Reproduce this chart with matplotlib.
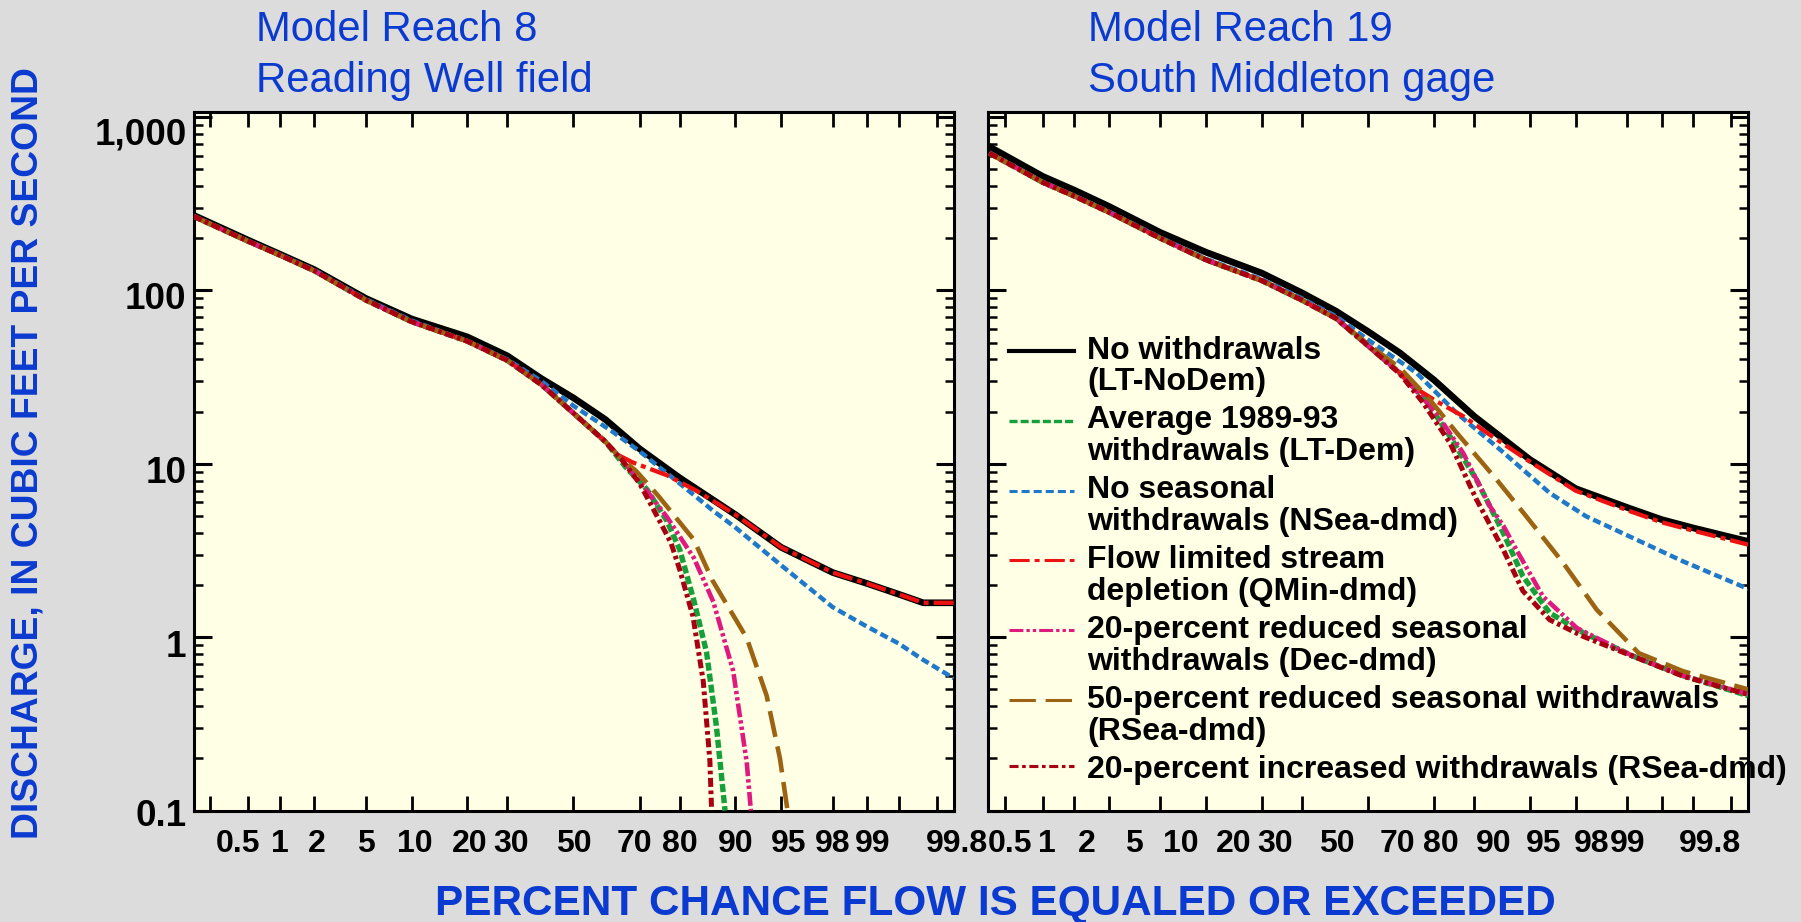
import numpy as np
import matplotlib
matplotlib.use("Agg")
import matplotlib.pyplot as plt
from matplotlib.legend_handler import HandlerLine2D
from matplotlib.lines import Line2D
from matplotlib.ticker import FixedLocator, NullLocator, LogLocator, NullFormatter
from matplotlib.transforms import ScaledTranslation
from statistics import NormalDist

plt.rcParams["font.family"] = ["Liberation Sans", "DejaVu Sans"]
plt.rcParams["font.weight"] = "bold"
plt.rcParams["lines.scale_dashes"] = False

# ---- data (percent exceeded, cfs) ----
# Model Reach 8, Reading Well field
r8_nodem_p = [0.13, 0.5, 1, 2, 5, 10, 20, 30, 40, 50, 60, 70, 80, 90, 95, 98, 99, 99.5, 99.72, 99.87]
r8_nodem_q = [272, 195, 162, 132, 90, 68.5, 54, 42, 31, 24, 18, 12.2, 8.3, 5.1, 3.3, 2.36, 2.04, 1.77, 1.58, 1.58]

r8_ltdem_p = [0.13, 0.5, 1, 2, 5, 10, 20, 30, 40, 50, 60, 66, 72, 77, 80, 83, 85.4, 87.1, 88.5]
r8_ltdem_q = [268, 192, 160, 130, 88, 66, 51, 39.5, 28.6, 19.6, 13.4, 9.6, 7.1, 4.7, 3.2, 1.62, 0.82, 0.31, 0.1]

r8_nsea_p = [0.13, 0.5, 1, 2, 5, 10, 20, 30, 40, 50, 62, 70, 80, 86.6, 90, 95, 98, 99, 99.5, 99.72, 99.87]
r8_nsea_q = [268, 193, 161, 131, 89, 67, 51, 40, 30, 21.6, 15.4, 11.8, 7.7, 5.35, 4.3, 2.6, 1.49, 1.15, 0.92, 0.74, 0.58]

r8_qmin_p = [0.13, 0.5, 1, 2, 5, 10, 20, 30, 40, 50, 60, 64, 68, 77, 83.5, 90, 95, 98, 99, 99.5, 99.72, 99.87]
r8_qmin_q = [268, 192, 160, 130, 88, 66, 51, 39.5, 28.6, 19.6, 13.4, 11.2, 10.2, 8.6, 7.0, 5.1, 3.3, 2.36, 2.04, 1.77, 1.58, 1.58]

r8_dec_p = [0.13, 0.5, 1, 2, 5, 10, 20, 30, 40, 50, 60, 65, 70, 77, 83, 86.6, 89.7, 91.5, 92]
r8_dec_q = [268, 192, 160, 130, 88, 66, 51, 39.5, 28.6, 19.6, 13.4, 10.6, 7.9, 4.95, 2.86, 1.6, 0.64, 0.19, 0.1]

r8_rsea_p = [0.13, 0.5, 1, 2, 5, 10, 20, 30, 40, 50, 60, 64, 69, 75, 83, 86.4, 91.5, 93.7, 94.9, 95.5]
r8_rsea_q = [268, 192, 160, 130, 88, 66, 51, 39.5, 28.6, 19.6, 13.4, 11, 9.1, 6.5, 3.64, 2.14, 0.99, 0.46, 0.2, 0.1]

r8_inc_p = [0.13, 0.5, 1, 2, 5, 10, 20, 30, 40, 50, 60, 65, 70, 75, 78, 80, 82.8, 84.8, 86.0, 86.3]
r8_inc_q = [268, 192, 160, 130, 88, 66, 51, 39.5, 28.6, 19.6, 13.4, 10.5, 7.7, 4.8, 3.5, 2.45, 1.32, 0.556, 0.193, 0.1]

# Model Reach 19, South Middleton gage
r19_nodem_p = [0.135, 0.5, 1, 2, 5, 10, 20, 30, 40, 50, 60, 70, 80, 90, 95, 98, 99, 99.5, 99.8, 99.87]
r19_nodem_q = [675, 455, 379, 306, 216, 166, 126, 97, 76, 58, 43.6, 30.4, 18.8, 10.6, 7.2, 5.6, 4.77, 4.27, 3.77, 3.57]

r19_ltdem_p = [0.135, 0.5, 1, 2, 5, 10, 20, 30, 40, 50, 60, 66.9, 74.2, 80.5, 85.8, 89, 92.5, 95.6, 98.2, 99.37, 99.87]
r19_ltdem_q = [620, 420, 350, 283, 200, 150, 114, 88, 69, 48, 33.4, 24.5, 14.4, 8.1, 4.0, 2.25, 1.38, 1.06, 0.78, 0.6, 0.46]

r19_nsea_p = [0.135, 0.5, 1, 2, 5, 10, 20, 30, 40, 50, 65, 75.9, 85.2, 92.5, 95.8, 98.2, 99.37, 99.87]
r19_nsea_q = [625, 422, 352, 285, 202, 152, 116, 90, 71, 52, 33.4, 19.6, 12.1, 6.79, 4.98, 3.74, 2.74, 1.9]

r19_qmin_p = [0.135, 0.5, 1, 2, 5, 10, 20, 30, 40, 50, 60, 63, 70.7, 77.5, 83.3, 90, 95, 98, 99, 99.5, 99.87]
r19_qmin_q = [620, 420, 350, 283, 200, 150, 114, 88, 69, 48, 33.4, 28.6, 22.9, 18.8, 14.7, 10.3, 7.0, 5.4, 4.6, 4.12, 3.42]

r19_dec_p = [0.135, 0.5, 1, 2, 5, 10, 20, 30, 40, 50, 60, 70.6, 77.5, 83.3, 85.8, 88, 91.7, 95.1, 98.2, 99.37, 99.87]
r19_dec_q = [620, 420, 350, 283, 200, 150, 114, 88, 69, 48, 33.4, 19.6, 11.5, 5.69, 4.4, 3.2, 1.72, 1.13, 0.78, 0.6, 0.47]

r19_rsea_p = [0.135, 0.5, 1, 2, 5, 10, 20, 30, 40, 50, 60, 68.8, 75.9, 84.6, 89.5, 93.9, 96.5, 98.4, 99.37, 99.87]
r19_rsea_q = [620, 420, 350, 283, 200, 150, 114, 88, 69, 49, 35.7, 23.4, 15.1, 8.1, 4.98, 2.68, 1.44, 0.81, 0.637, 0.5]

r19_inc_p = [0.135, 0.5, 1, 2, 5, 10, 20, 30, 40, 50, 60, 66.9, 74.2, 80.5, 85.8, 89, 92.5, 95.6, 98.2, 99.37, 99.87]
r19_inc_q = [620, 420, 350, 283, 200, 150, 114, 88, 69, 48, 33, 22.5, 13.2, 6.22, 3.2, 1.85, 1.26, 1.01, 0.777, 0.596, 0.467]

series_keys = ["nodem", "ltdem", "nsea", "qmin", "dec", "rsea", "inc"]
series_labels = [
    "No withdrawals\n(LT-NoDem)",
    "Average 1989-93\nwithdrawals (LT-Dem)",
    "No seasonal\nwithdrawals (NSea-dmd)",
    "Flow limited stream\ndepletion (QMin-dmd)",
    "20-percent reduced seasonal\nwithdrawals (Dec-dmd)",
    "50-percent reduced seasonal withdrawals\n(RSea-dmd)",
    "20-percent increased withdrawals (RSea-dmd)",
]
reach8 = {"nodem": (r8_nodem_p, r8_nodem_q), "ltdem": (r8_ltdem_p, r8_ltdem_q),
          "nsea": (r8_nsea_p, r8_nsea_q), "qmin": (r8_qmin_p, r8_qmin_q),
          "dec": (r8_dec_p, r8_dec_q), "rsea": (r8_rsea_p, r8_rsea_q),
          "inc": (r8_inc_p, r8_inc_q)}
reach19 = {"nodem": (r19_nodem_p, r19_nodem_q), "ltdem": (r19_ltdem_p, r19_ltdem_q),
           "nsea": (r19_nsea_p, r19_nsea_q), "qmin": (r19_qmin_p, r19_qmin_q),
           "dec": (r19_dec_p, r19_dec_q), "rsea": (r19_rsea_p, r19_rsea_q),
           "inc": (r19_inc_p, r19_inc_q)}

x_ticks = [0.2, 0.5, 1, 2, 5, 10, 20, 30, 50, 70, 80, 90, 95, 98, 99, 99.5, 99.8]
x_ticklabels = ["", "0.5", "1", "2", "5", "10", "20", "30", "50", "70", "80",
                "90", "95", "98", "99", "", "99.8"]
y_ticks = [0.1, 1, 10, 100, 1000]
y_ticklabels = ["0.1", "1", "10", "100", "1,000"]

# ---- styles ----
styles = {
    "nodem": dict(color="#000000", lw=4.8, ls="-", zorder=2),
    "ltdem": dict(color="#16a03a", lw=3.9, ls=(0, (5.8, 2.2)), zorder=3),
    "nsea": dict(color="#1f78c8", lw=3.2, ls=(0, (5.8, 2.9)), zorder=4),
    "qmin": dict(color="#ee1111", lw=3.1, ls=(0, (14.5, 3.6, 3.6, 3.6)), zorder=5),
    "dec": dict(color="#e0197f", lw=3.3, ls=(0, (10, 2.2, 2.4, 2.2, 2.4, 2.2)), zorder=6),
    "rsea": dict(color="#9c6412", lw=3.3, ls=(0, (19, 7)), zorder=7),
    "inc": dict(color="#a80010", lw=3.6, ls=(0, (6.5, 2.6, 2.6, 2.6)), zorder=8),
}
BLUE = "#0a3ad0"
PANEL_BG = "#ffffe6"
LEG_LINESPACING = 1.08

# ---- normal-probability x scale ----
_nd = NormalDist()
_ppf = np.vectorize(_nd.inv_cdf, otypes=[float])
_cdf = np.vectorize(lambda v: 100.0 * _nd.cdf(v), otypes=[float])


def to_z(p):
    p = np.clip(np.asarray(p, dtype=float) / 100.0, 1e-9, 1 - 1e-9)
    return _ppf(p)


def from_z(z):
    return _cdf(np.asarray(z, dtype=float))


x_lo = float(from_z(-3.01))
x_hi = float(from_z(3.01))


class FirstLineHandler(HandlerLine2D):
    # put the legend sample next to the first line of a wrapped label,
    # and draw it a bit thinner than the curve itself
    def create_artists(self, legend, orig_handle, xdescent, ydescent,
                       width, height, fontsize, trans):
        arts = super().create_artists(legend, orig_handle, xdescent, ydescent,
                                      width, height, fontsize, trans)
        n = orig_handle.get_label().count("\n")
        half_step = 0.729 * LEG_LINESPACING / 2
        shift = (n * half_step + 0.105) * fontsize if n else 0.0
        for a in arts:
            a.set_ydata(np.asarray(a.get_ydata(), dtype=float) + shift)
            a.set_linewidth(max(2.2, orig_handle.get_linewidth() * 0.62))
        return arts


fig = plt.figure(figsize=(18.01, 9.22), dpi=100, facecolor="#dcdcdc")
ax1 = fig.add_axes([193.5 / 1801, 1 - 810.6 / 922, 760 / 1801, 698.6 / 922])
ax2 = fig.add_axes([988 / 1801, 1 - 810.6 / 922, 760 / 1801, 698.6 / 922])


def shift_labels(labels, shifts, axis):
    for lab, d in zip(labels, shifts):
        if axis == "x":
            off = ScaledTranslation(d / 100.0, 0, fig.dpi_scale_trans)
        else:
            off = ScaledTranslation(0, d / 100.0, fig.dpi_scale_trans)
        lab.set_transform(lab.get_transform() + off)


for ax, data in ((ax1, reach8), (ax2, reach19)):
    ax.set_facecolor(PANEL_BG)
    for key, lab in zip(series_keys, series_labels):
        p, q = data[key]
        st = styles[key]
        ax.plot(p, q, color=st["color"], lw=st["lw"], linestyle=st["ls"],
                zorder=st["zorder"], label=lab)
    ax.set_xscale("function", functions=(to_z, from_z))
    ax.set_yscale("log")
    ax.set_xlim(x_lo, x_hi)
    ax.set_ylim(0.1, 1070)
    ax.xaxis.set_major_locator(FixedLocator(x_ticks))
    ax.xaxis.set_minor_locator(NullLocator())
    ax.set_xticklabels(x_ticklabels)
    ax.yaxis.set_major_locator(FixedLocator(y_ticks))
    ax.yaxis.set_minor_locator(LogLocator(base=10, subs=np.arange(2, 10)))
    ax.yaxis.set_minor_formatter(NullFormatter())
    ax.set_yticklabels(y_ticklabels)
    for s in ax.spines.values():
        s.set_linewidth(2.2)
    ax.tick_params(axis="x", which="major", direction="in", top=True, bottom=True,
                   length=10.5, width=2.0, labelsize=23, pad=13)
    ax.tick_params(axis="y", which="major", direction="in", left=True, right=True,
                   length=13, width=2.2, labelsize=26.5, pad=5)
    ax.tick_params(axis="y", which="minor", direction="in", left=True, right=True,
                   length=6.5, width=1.8)

ax2.tick_params(axis="y", which="both", labelleft=False)

# legend inside the right panel, no frame
leg = ax2.legend(loc="upper left", bbox_to_anchor=(0.0276, 0.68), frameon=False,
                 prop={"size": 23, "weight": "bold"}, handlelength=2.05,
                 handletextpad=0.4, labelspacing=0.25, borderpad=0,
                 borderaxespad=0, handler_map={Line2D: FirstLineHandler()})
for t in leg.get_texts():
    t.set_linespacing(LEG_LINESPACING)

# tick labels sit a little off their ticks in the original
shift_labels(ax1.get_xticklabels(), [0, -10, 0, 3, 0, 3, 2, 4, 0, -5, 0, 0, 7, 0, 5, 0, 20], "x")
shift_labels(ax2.get_xticklabels(), [0, -33, -27, -22, -26, -25, -28, -27, -31, -37,
                                      -33, -36, -32, -36, -34, 0, -21], "x")
shift_labels(ax1.get_yticklabels(), [-2, -6, -6, -5, -14], "y")

# titles and axis labels
fig.text(256 / 1801, 1 - 40.7 / 922, "Model Reach 8", fontsize=30.2, weight="normal",
         color=BLUE, ha="left", va="baseline")
fig.text(256 / 1801, 1 - 92 / 922, "Reading Well field", fontsize=30.2, weight="normal",
         color=BLUE, ha="left", va="baseline")
fig.text(1087.6 / 1801, 1 - 40.7 / 922, "Model Reach 19", fontsize=30.2, weight="normal",
         color=BLUE, ha="left", va="baseline")
fig.text(1087.6 / 1801, 1 - 92 / 922, "South Middleton gage", fontsize=30.2, weight="normal",
         color=BLUE, ha="left", va="baseline")
fig.text(28.5 / 1801, 1 - 453.5 / 922, "DISCHARGE, IN CUBIC FEET PER SECOND", rotation=90,
         fontsize=26.8, weight="bold", color=BLUE, ha="center", va="center")
fig.text(995 / 1801, 1 - 915 / 922, "PERCENT CHANCE FLOW IS EQUALED OR EXCEEDED",
         fontsize=30.4, weight="bold", color=BLUE, ha="center", va="baseline")

fig.savefig("out.png", dpi=100, facecolor=fig.get_facecolor())
